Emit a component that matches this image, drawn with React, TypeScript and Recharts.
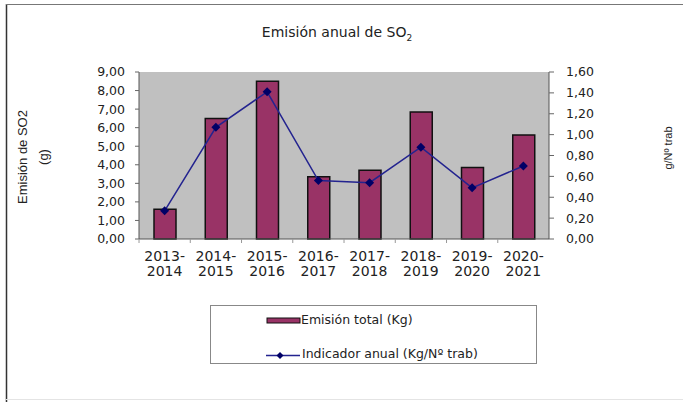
import { ComposedChart, Bar, Line, XAxis, YAxis, CartesianGrid } from "recharts";

// periodos y valores
const periods = [
  "2013-2014",
  "2014-2015",
  "2015-2016",
  "2016-2017",
  "2017-2018",
  "2018-2019",
  "2019-2020",
  "2020-2021",
];
const emisionTotal = [1.6, 6.5, 8.5, 3.35, 3.7, 6.85, 3.85, 5.6];
const indicadorAnual = [0.27, 1.07, 1.41, 0.56, 0.54, 0.88, 0.49, 0.7];
const leftTicks = [0, 1, 2, 3, 4, 5, 6, 7, 8, 9];
const rightTicks = [0, 0.2, 0.4, 0.6, 0.8, 1.0, 1.2, 1.4, 1.6];

const data = periods.map((period, i) => ({
  period,
  emision: emisionTotal[i],
  indicador: indicadorAnual[i],
}));

const BAR_COLOR = "#993366";
const LINE_COLOR = "#23238f";
const MARK_COLOR = "#000066";
const TEXT = "#222";
const FONT = "'DejaVu Sans', sans-serif";
const FONT_ROT = "'Liberation Sans', Arial, sans-serif";

const fmt = (v: number) => v.toFixed(2).replace(".", ",");

const PeriodTick = (props: any) => {
  const { x, y, payload } = props;
  const [a, b] = String(payload.value).split("-");
  return (
    <g>
      <line x1={x - 25.6} y1={y} x2={x - 25.6} y2={y + 4} stroke="#999" />
      <text x={x} y={y} textAnchor="middle" fontFamily={FONT} fontSize={14} fill={TEXT}>
        <tspan x={x} dy={21.5}>{a}-</tspan>
        <tspan x={x} dy={15}>{b}</tspan>
      </text>
    </g>
  );
};

const Diamond = (props: any) => {
  const { cx, cy, index } = props;
  if (cx == null || cy == null) return <g key={index} />;
  const r = 4.5;
  return (
    <polygon
      key={index}
      points={`${cx},${cy - r} ${cx + r},${cy} ${cx},${cy + r} ${cx - r},${cy}`}
      fill={MARK_COLOR}
    />
  );
};

export default function App() {
  return (
    <div style={{ position: "absolute", left: 0, top: 0, width: 683, height: 402, background: "#fff", fontFamily: FONT }}>
      <ComposedChart
        width={683}
        height={402}
        data={data}
        margin={{ top: 72, right: 94, bottom: 123, left: 99 }}
      >
        <CartesianGrid fill="#c0c0c0" horizontal={false} vertical={false} />
        <XAxis
          dataKey="period"
          height={40}
          interval={0}
          tick={<PeriodTick />}
          tickLine={false}
          tickSize={0}
          tickMargin={0}
          axisLine={{ stroke: "#555" }}
        />
        <XAxis
          xAxisId="top"
          dataKey="period"
          orientation="top"
          height={0}
          tick={false}
          tickLine={false}
          axisLine={{ stroke: "#666" }}
        />
        <YAxis
          yAxisId="left"
          width={40}
          domain={[0, 9]}
          ticks={leftTicks}
          interval={0}
          tickFormatter={fmt}
          tickSize={4}
          tickMargin={10}
          tickLine={{ stroke: "#666" }}
          axisLine={{ stroke: "#555" }}
          tick={{ fontFamily: FONT, fontSize: 12.5, fill: TEXT }}
        />
        <YAxis
          yAxisId="right"
          orientation="right"
          width={40}
          domain={[0, 1.6]}
          ticks={rightTicks}
          interval={0}
          tickFormatter={fmt}
          tickSize={5}
          tickMargin={12}
          tickLine={{ stroke: "#666" }}
          axisLine={{ stroke: "#555" }}
          tick={{ fontFamily: FONT, fontSize: 12.5, fill: TEXT, textAnchor: "start" }}
        />
        <Bar
          yAxisId="left"
          dataKey="emision"
          barSize={22}
          fill={BAR_COLOR}
          stroke="#111"
          strokeWidth={1.5}
          isAnimationActive={false}
        />
        <Line
          yAxisId="right"
          dataKey="indicador"
          stroke={LINE_COLOR}
          strokeWidth={1.5}
          dot={<Diamond />}
          activeDot={false}
          isAnimationActive={false}
        />
      </ComposedChart>

      <svg
        width={683}
        height={402}
        style={{ position: "absolute", left: 0, top: 0, pointerEvents: "none" }}
      >
        {/* marco exterior */}
        <line x1={6.5} y1={4} x2={6.5} y2={402} stroke="#333" strokeWidth={1.5} />
        <line x1={6} y1={4.5} x2={683} y2={4.5} stroke="#777" />
        <line x1={6} y1={399.5} x2={683} y2={399.5} stroke="#e4e4e4" />

        <text x={337} y={37} textAnchor="middle" fontFamily={FONT} fontSize={14} fill={TEXT}>
          Emisión anual de SO
          <tspan dy={4} fontSize={9}>2</tspan>
        </text>

        <text
          transform="translate(27,157) rotate(-90)"
          textAnchor="middle"
          fontFamily={FONT_ROT}
          fontSize={13}
          fill={TEXT}
        >
          Emisión de SO2
        </text>
        <text
          transform="translate(48,157) rotate(-90)"
          textAnchor="middle"
          fontFamily={FONT_ROT}
          fontSize={13}
          fill={TEXT}
        >
          (g)
        </text>
        <text
          transform="translate(672,148) rotate(-90)"
          textAnchor="middle"
          fontFamily={FONT_ROT}
          fontSize={11}
          fill={TEXT}
        >
          g/Nº trab
        </text>

        {/* leyenda */}
        <rect x={210.5} y={305.5} width={326} height={58} fill="#fff" stroke="#888" />
        <rect x={267} y={318} width={33} height={5} fill={BAR_COLOR} stroke="#111" />
        <text x={301} y={323.5} fontFamily={FONT} fontSize={12.5} fill={TEXT}>
          Emisión total (Kg)
        </text>
        <line x1={266} y1={355.5} x2={300} y2={355.5} stroke={LINE_COLOR} strokeWidth={1.5} />
        <polygon points="280,352 283.5,355.5 280,359 276.5,355.5" fill={MARK_COLOR} />
        <text x={302} y={357.5} fontFamily={FONT} fontSize={12.5} fill={TEXT}>
          Indicador anual (Kg/Nº trab)
        </text>
      </svg>
    </div>
  );
}
